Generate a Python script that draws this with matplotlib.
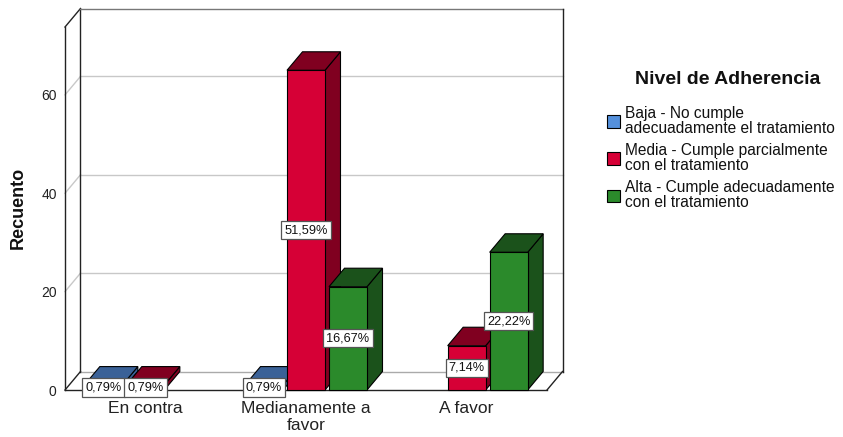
import numpy as np
import matplotlib.pyplot as plt
from matplotlib.patches import Polygon, Patch

plt.rcParams['font.family'] = ['Liberation Sans', 'DejaVu Sans']

# data: counts per category and adherence level
categorias = ['En contra', 'Medianamente a\nfavor', 'A favor']
niveles = ['Baja - No cumple\nadecuadamente el tratamiento',
           'Media - Cumple parcialmente\ncon el tratamiento',
           'Alta - Cumple adecuadamente\ncon el tratamiento']
baja = [1, 1, 0]
media = [1, 65, 9]
alta = [0, 21, 28]
yticks = [0, 20, 40, 60]

colores = ['#5490DC', '#D60036', '#2B8A2B']
oscuros = ['#3A6197', '#800020', '#1B521B']

series = [baja, media, alta]
total = float(np.sum(series))

W, H = 843, 437
fig = plt.figure(figsize=(W / 100, H / 100), dpi=100)
# axes = front plane of the 3d box
x0px, x1px, y0px, y1px = 65, 547, 390, 27
ax = fig.add_axes([x0px / W, (H - y0px) / H, (x1px - x0px) / W, (y0px - y1px) / H])
xmin, xmax = -0.5, len(categorias) - 0.5
ymax = 73.8
ax.set_xlim(xmin, xmax)
ax.set_ylim(0, ymax)

# depth offset in data units (15.5 px right, 18.5 px up)
dx = 15.5 * (xmax - xmin) / (x1px - x0px)
dy = 18.5 * ymax / (y0px - y1px)

grid_c = '#c8c8c8'
edge_c = '#222222'
kw = dict(clip_on=False)

# gridlines on back wall + left wall
for t in yticks[1:]:
    ax.plot([xmin + dx, xmax + dx], [t + dy, t + dy], color=grid_c, lw=1, zorder=1, **kw)
    ax.plot([xmin, xmin + dx], [t, t + dy], color=grid_c, lw=1, zorder=1, **kw)
ax.plot([xmin + dx, xmax + dx], [dy, dy], color='#aaaaaa', lw=1, zorder=1, **kw)

# box frame
ax.plot([xmin, xmin], [0, ymax], color=edge_c, lw=1, zorder=2, **kw)
ax.plot([xmin, xmin + dx], [ymax, ymax + dy], color=edge_c, lw=1, zorder=2, **kw)
ax.plot([xmin + dx, xmin + dx], [dy, ymax + dy], color=edge_c, lw=1, zorder=2, **kw)
ax.plot([xmin + dx, xmax + dx], [ymax + dy, ymax + dy], color='#777777', lw=1, zorder=2, **kw)
ax.plot([xmax + dx, xmax + dx], [dy, ymax + dy], color=edge_c, lw=1, zorder=2, **kw)
ax.plot([xmin, xmax], [0, 0], color=edge_c, lw=1, zorder=2, **kw)
ax.plot([xmin, xmin + dx], [0, dy], color=edge_c, lw=1, zorder=2, **kw)
ax.plot([xmax, xmax + dx], [0, dy], color=edge_c, lw=1, zorder=2, **kw)

# bars
bw = 38 * (xmax - xmin) / (x1px - x0px)
paso = 42 * (xmax - xmin) / (x1px - x0px)
z = 3
etiquetas = []
for i in range(len(categorias)):
    for j, vals in enumerate(series):
        v = vals[i]
        if v == 0:
            continue
        xc = i + (j - 1) * paso
        xl, xr = xc - bw / 2, xc + bw / 2
        front = Polygon([(xl, 0), (xr, 0), (xr, v), (xl, v)], closed=True,
                        fc=colores[j], ec='black', lw=0.8, zorder=z, **kw)
        side = Polygon([(xr, 0), (xr + dx, dy), (xr + dx, v + dy), (xr, v)], closed=True,
                       fc=oscuros[j], ec='black', lw=0.8, zorder=z, **kw)
        top = Polygon([(xl, v), (xr, v), (xr + dx, v + dy), (xl + dx, v + dy)], closed=True,
                      fc=oscuros[j], ec='black', lw=0.8, zorder=z, **kw)
        for p in (side, top, front):
            ax.add_patch(p)
        z += 1
        etiquetas.append((xc, v / 2, ('%.2f%%' % (v / total * 100)).replace('.', ',')))

for xc, yc, s in etiquetas:
    ax.text(xc, yc, s, ha='center', va='center', fontsize=9.2, color='#111111', zorder=50,
            bbox=dict(boxstyle='square,pad=0.24', fc='white', ec='#555555', lw=0.9))

ax.set_yticks(yticks)
ax.set_yticklabels([str(t) for t in yticks], fontsize=10, color='#222222')
ax.set_xticks(range(len(categorias)))
ax.set_xticklabels(categorias, fontsize=12.5, color='#222222', linespacing=1.12)
ax.tick_params(axis='both', length=0)
ax.tick_params(axis='y', pad=6)
ax.tick_params(axis='x', pad=8)
for s in ax.spines.values():
    s.set_visible(False)
ax.patch.set_alpha(0)

fig.text(18 / W, 1 - 208 / H, 'Recuento', rotation=90, ha='center', va='center',
         fontsize=13, fontweight='bold', color='#111111')

fig.text(728 / W, 1 - 80 / H, 'Nivel de Adherencia', ha='center', va='center',
         fontsize=14, fontweight='bold', color='#111111')
handles = [Patch(fc=colores[j], ec='black', lw=0.8) for j in range(3)]
leg = fig.legend(handles, niveles, loc='upper left', bbox_to_anchor=(604 / W, 1 - 103 / H),
                 frameon=False, fontsize=11.2,
                 handlelength=0.85, handleheight=0.85, handletextpad=0.3, labelspacing=0.5,
                 borderpad=0.2, borderaxespad=0)
for t in leg.get_texts():
    t.set_linespacing(0.95)
    t.set_color('#111111')

fig.savefig('out.png', dpi=100)
plt.close(fig)
